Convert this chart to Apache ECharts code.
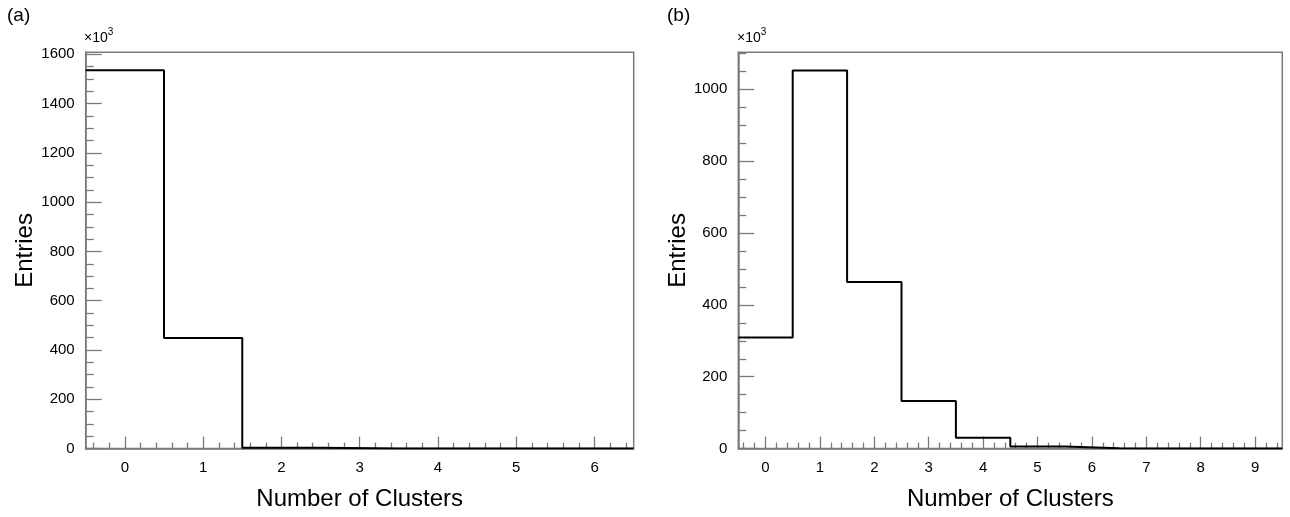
<!DOCTYPE html>
<html>
<head>
<meta charset="utf-8">
<script src="https://cdn.jsdelivr.net/npm/echarts@6/dist/echarts.min.js"></script>
<style>
  html, body { margin: 0; padding: 0; background: #fff; }
  #chart { width: 1290px; height: 517px; }
</style>
</head>
<body>
<div id="chart"></div>
<script>
// bin centres (number of clusters) and entries in units of 10^3
const binsA = [0, 1, 2, 3, 4, 5, 6]
const entriesA = [1535, 449, 3, 0, 0, 0, 0]
const binsB = [0, 1, 2, 3, 4, 5, 6, 7, 8, 9]
const entriesB = [309, 1052, 464, 132.5, 30.5, 6, 1, 0, 0, 0]

// tick labels
const xTicksA = [0, 1, 2, 3, 4, 5, 6]
const xTicksB = [0, 1, 2, 3, 4, 5, 6, 7, 8, 9]
const yTicksA = [0, 200, 400, 600, 800, 1000, 1200, 1400, 1600]
const yTicksB = [0, 200, 400, 600, 800, 1000]

const yMaxA = 1608
const yMaxB = 1103

const FONT = 'Liberation Sans'
const FRAME = '#7a7a7a'

// histogram outline: one point at each lower bin edge, last one closes the bin
function edges(bins, vals) {
  const pts = bins.map((c, i) => [c - 0.5, vals[i]])
  pts.push([bins[bins.length - 1] + 0.5, vals[vals.length - 1]])
  return pts
}

// minor tick positions between majors (and beyond them, inside the range)
function minors(min, max, step, n) {
  const out = []
  const sub = step / n
  const start = Math.ceil(min / sub)
  for (let k = start; k * sub <= max + 1e-9; k++) {
    const v = Math.round(k * sub * 1000) / 1000
    if (Math.abs(v / step - Math.round(v / step)) > 1e-6) out.push(v)
  }
  return out
}

const plain = v => String(v)

function majorX(grid, min, max, ticks) {
  return {
    type: 'value', gridIndex: grid, min: min, max: max, position: 'bottom',
    name: 'Number of Clusters', nameLocation: 'middle', nameGap: 39,
    nameTextStyle: { fontFamily: FONT, fontSize: 24, color: '#000' },
    axisLine: { show: true, onZero: false, lineStyle: { color: FRAME, width: 1.5 } },
    axisTick: { show: true, inside: true, length: 12, customValues: ticks,
      lineStyle: { color: FRAME, width: 1.3 } },
    axisLabel: { customValues: ticks, formatter: plain, color: '#000',
      fontFamily: FONT, fontSize: 15, margin: 12 },
    splitLine: { show: false }
  }
}

function minorX(grid, min, max, ticks) {
  return {
    type: 'value', gridIndex: grid, min: min, max: max, position: 'bottom',
    axisLine: { show: false, onZero: false },
    axisTick: { show: true, inside: true, length: 6, customValues: ticks,
      lineStyle: { color: FRAME, width: 1.3 } },
    axisLabel: { show: false },
    splitLine: { show: false }
  }
}

function majorY(grid, max, ticks, gap) {
  return {
    type: 'value', gridIndex: grid, min: 0, max: max, position: 'left',
    name: 'Entries', nameLocation: 'middle', nameGap: gap,
    nameTextStyle: { fontFamily: FONT, fontSize: 24, color: '#000' },
    axisLine: { show: true, onZero: false, lineStyle: { color: FRAME, width: 1.5 } },
    axisTick: { show: true, inside: true, length: 16, customValues: ticks,
      lineStyle: { color: FRAME, width: 1.3 } },
    axisLabel: { customValues: ticks, formatter: plain, color: '#000',
      fontFamily: FONT, fontSize: 15, margin: 11 },
    splitLine: { show: false }
  }
}

function minorY(grid, max, ticks) {
  return {
    type: 'value', gridIndex: grid, min: 0, max: max, position: 'left',
    axisLine: { show: false, onZero: false },
    axisTick: { show: true, inside: true, length: 8, customValues: ticks,
      lineStyle: { color: FRAME, width: 1.3 } },
    axisLabel: { show: false },
    splitLine: { show: false }
  }
}

function exponent(left) {
  return {
    type: 'text', left: left, top: 27,
    style: {
      text: '{b|×10}{s|3}',
      rich: {
        b: { fontFamily: FONT, fontSize: 14, fill: '#000', verticalAlign: 'bottom', lineHeight: 18 },
        s: { fontFamily: FONT, fontSize: 10, fill: '#000', verticalAlign: 'top', lineHeight: 18, padding: [0, 0, 6, 0] }
      }
    }
  }
}

const chart = echarts.init(document.getElementById('chart'), null, { renderer: 'canvas' })

const option = {
  animation: false,
  backgroundColor: '#fff',
  grid: [
    { left: 85.7, top: 52.3, width: 548, height: 396.3, show: true,
      borderColor: FRAME, borderWidth: 1.5, backgroundColor: 'transparent' },
    { left: 738.3, top: 52.3, width: 544, height: 396.3, show: true,
      borderColor: FRAME, borderWidth: 1.5, backgroundColor: 'transparent' }
  ],
  xAxis: [
    majorX(0, -0.5, 6.5, xTicksA),
    minorX(0, -0.5, 6.5, minors(-0.5, 6.5, 1, 5)),
    majorX(1, -0.5, 9.5, xTicksB),
    minorX(1, -0.5, 9.5, minors(-0.5, 9.5, 1, 5))
  ],
  yAxis: [
    majorY(0, yMaxA, yTicksA, 48),
    minorY(0, yMaxA, minors(0, yMaxA, 200, 4)),
    majorY(1, yMaxB, yTicksB, 48),
    minorY(1, yMaxB, minors(0, yMaxB, 200, 4))
  ],
  series: [
    {
      type: 'line', xAxisIndex: 0, yAxisIndex: 0, step: 'end',
      data: edges(binsA, entriesA), showSymbol: false, symbol: 'none',
      lineStyle: { color: '#000', width: 2 }
    },
    {
      type: 'line', xAxisIndex: 2, yAxisIndex: 2, step: 'end',
      data: edges(binsB, entriesB), showSymbol: false, symbol: 'none',
      lineStyle: { color: '#000', width: 2 }
    }
  ],
  graphic: [
    { type: 'text', left: 7, top: 6, style: { text: '(a)', font: '19px "Liberation Sans"', fill: '#000' } },
    exponent(84),
    { type: 'text', left: 667, top: 6, style: { text: '(b)', font: '19px "Liberation Sans"', fill: '#000' } },
    exponent(737)
  ]
}

chart.setOption(option)
</script>
</body>
</html>
